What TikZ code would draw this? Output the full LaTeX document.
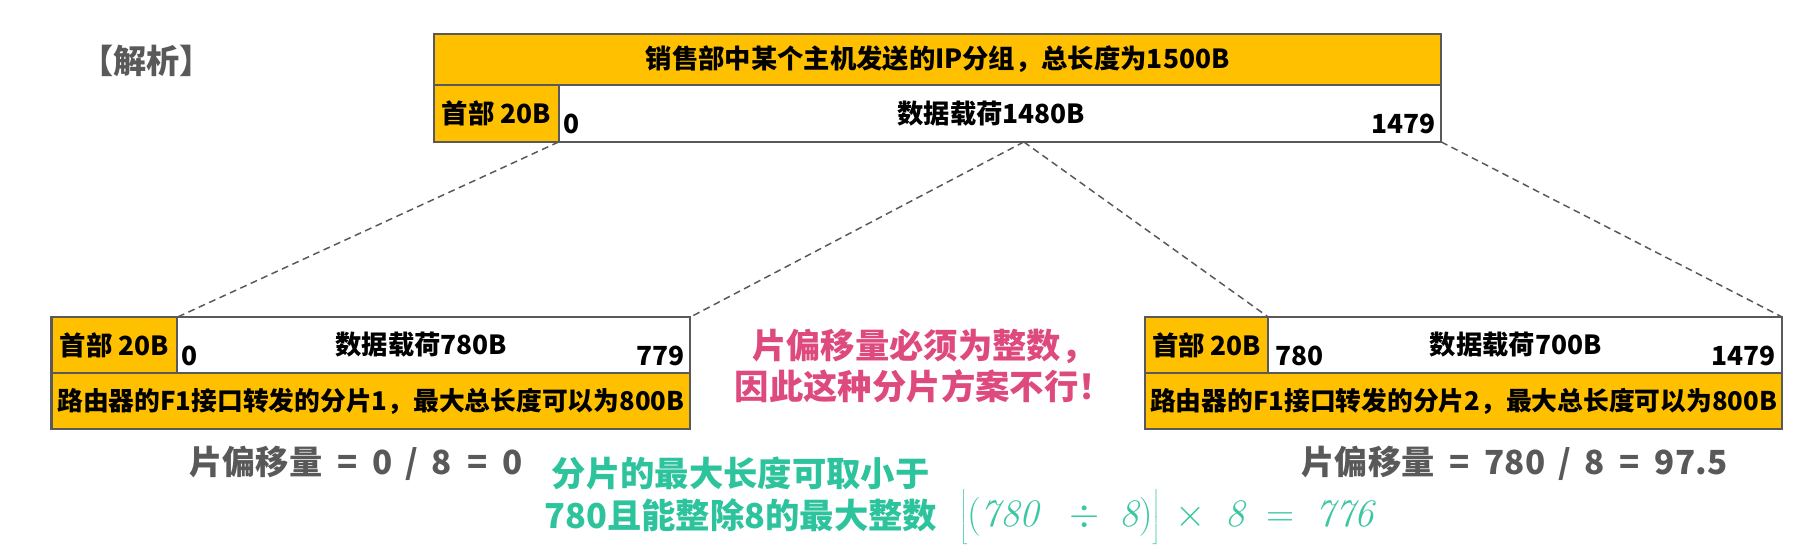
\RequirePackage{fix-cm}
\documentclass[tikz,border=0pt]{standalone}
\usepackage{fontspec}
\newfontfamily\cjk{Noto Sans CJK SC}
\usetikzlibrary{calc}
\definecolor{og}{HTML}{FFC000}
\definecolor{bd}{HTML}{595959}
\definecolor{gr}{HTML}{595959}
\definecolor{pk}{HTML}{DF4A7E}
\definecolor{gn}{HTML}{2DC39D}
\definecolor{gn2}{HTML}{3CC6A3}
\begin{document}
\begin{tikzpicture}[x=1pt,y=-1pt,
  box/.style={draw=bd, line width=1.8pt, inner sep=0pt, outer sep=0pt, anchor=north west,
              font=\cjk\bfseries\fontsize{23}{27}\selectfont},
  hdr/.style={box, fill=og},
  pay/.style={box, fill=white},
  lab/.style={font=\cjk\bfseries\fontsize{23}{27}\selectfont, text=black, inner sep=0pt},
  dl/.style={draw=bd, line width=1.3pt, dash pattern=on 6pt off 4pt},
  offs/.style={font=\cjk\bfseries\fontsize{29}{33}\selectfont, text=gr, inner sep=0pt},
]
\useasboundingbox (0,0) rectangle (1568,480);

\node[font=\cjk\bfseries\fontsize{29}{33}\selectfont, text=gr, inner sep=0pt] (jx) at (128,53) {【解析】};

% top packet
\node[hdr, minimum width=880pt, minimum height=44pt] (title) at (379,30) {销售部中某个主机发送的IP分组，总长度为1500B};
\node[hdr, minimum width=109pt, minimum height=50pt] (h0) at (379,74) {首部 20B};
\node[pay, minimum width=771pt, minimum height=50pt] (p0) at (488,74) {};
\node[lab] (p0l) at (866,99) {数据载荷1480B};
\node[lab, anchor=west] (p0a) at (492,108) {0};
\node[lab, anchor=east] (p0b) at (1254,108) {1479};
\coordinate (cut) at ($(p0.south west)!780/1480!(p0.south east)$);

% left fragment
\node[hdr, minimum width=110pt, minimum height=49pt] (h1) at (45,277) {首部 20B};
\node[pay, minimum width=448pt, minimum height=49pt] (p1) at (155,277) {};
\node[hdr, minimum width=558pt, minimum height=49pt, font=\cjk\bfseries\fontsize{22.5}{27}\selectfont] (f1) at (45,326) {路由器的F1接口转发的分片1，最大总长度可以为800B};
\node[lab] (p1l) at (368,301) {数据载荷780B};
\node[lab, anchor=west] (p1a) at (158,311) {0};
\node[lab, anchor=east] (p1b) at (598,311) {779};

% right fragment
\node[hdr, minimum width=108pt, minimum height=49pt] (h2) at (1000,277) {首部 20B};
\node[pay, minimum width=449pt, minimum height=49pt] (p2) at (1108,277) {};
\node[hdr, minimum width=557pt, minimum height=49pt, font=\cjk\bfseries\fontsize{22.5}{27}\selectfont] (f2) at (1000,326) {路由器的F1接口转发的分片2，最大总长度可以为800B};
\node[lab] (p2l) at (1324,301) {数据载荷700B};
\node[lab, anchor=west] (p2a) at (1114,311) {780};
\node[lab, anchor=east] (p2b) at (1551,311) {1479};

% dashed connectors
\draw[dl] (p0.south west) -- (p1.north west);
\draw[dl] (cut) -- (p1.north east);
\draw[dl] (cut) -- (p2.north west);
\draw[dl] (p0.south east) -- (p2.north east);

% pink warning
\node[align=center, font=\cjk\bfseries\fontsize{30}{36}\selectfont, text=pk, inner sep=0pt] (warn) at (807,320)
  {片偏移量必须为整数，\\因此这种分片方案不行！};

% offsets
\node[offs] (off1) at (311,405) {片偏移量\hspace{0.45em}=\hspace{0.45em}0\hspace{0.4em}/\hspace{0.4em}8\hspace{0.45em}=\hspace{0.45em}0};
\node[offs] (off2) at (1323,405) {片偏移量\hspace{0.45em}=\hspace{0.45em}780\hspace{0.4em}/\hspace{0.4em}8\hspace{0.45em}=\hspace{0.45em}97.5};

% green tip
\node[align=center, font=\cjk\bfseries\fontsize{30}{37}\selectfont, text=gn, inner sep=0pt] (tip) at (647,432)
  {分片的最大长度可取小于\\780且能整除8的最大整数};

% formula
\node[anchor=base west, text=gn2, font=\fontsize{34}{40}\selectfont, inner sep=0pt] (fm) at (838,460)
  {$\left\lfloor\rule[-16pt]{0pt}{46pt}\mathit{(780\;\;\div\;8)}\right\rfloor\,\times\;\mathit{8}\;=\;\mathit{776}$};
\end{tikzpicture}
\end{document}
